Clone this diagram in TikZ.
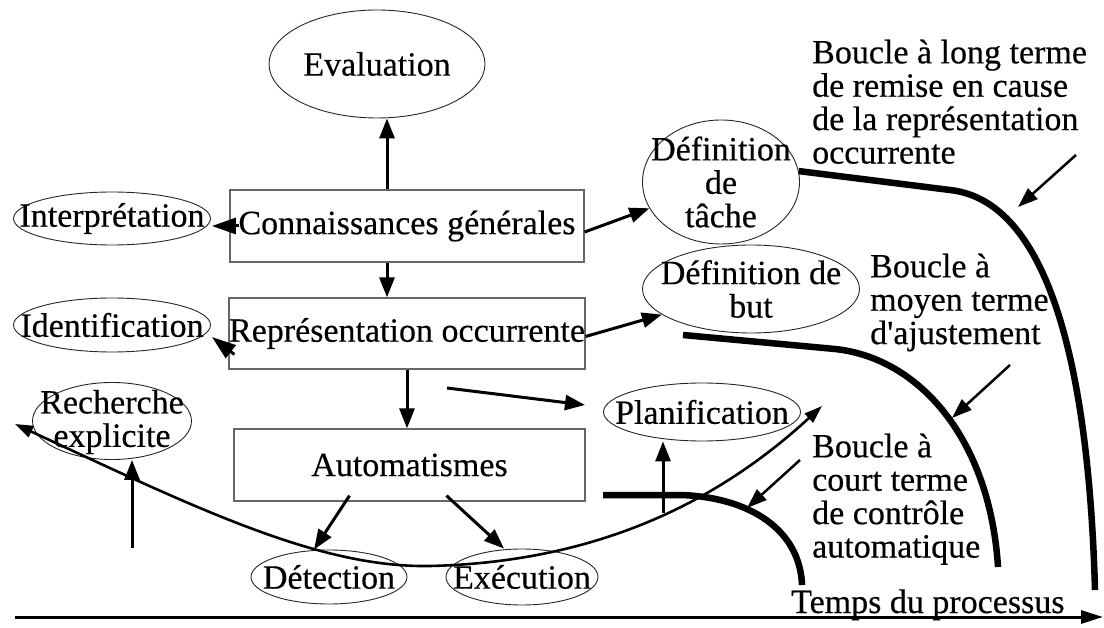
\documentclass[tikz,border=0pt]{standalone}
\usepackage{fontspec}
\setmainfont{Liberation Serif}[FakeBold=0.4]
\usetikzlibrary{arrows.meta,shapes.geometric}
\begin{document}
\begin{tikzpicture}[x=1pt,y=-1pt,
  every node/.style={font=\fontsize{34}{33.4}\selectfont},
  ell/.style={draw=black!85, line width=0.9pt, ellipse, inner sep=0pt},
  box/.style={draw=black!60, line width=1.3pt, rectangle, inner sep=0pt, minimum width=354pt, minimum height=72pt},
  lbl/.style={align=center, inner sep=0pt},
  arr/.style={line width=3pt, -{Triangle[width=15pt,length=20pt]}},
  shortarr/.style={line width=3pt, -{Triangle[width=16pt,length=24pt]}},
  thinarr/.style={line width=2.6pt, {Triangle[width=12pt,length=18pt]}-{Triangle[width=12pt,length=18pt]}},
  ptr/.style={line width=2.5pt, -{Triangle[width=14pt,length=20pt]}},
  axis/.style={line width=3pt, -{Triangle[width=13pt,length=22pt]}},
  loopline/.style={line width=6.5pt},
  txt/.style={align=left, anchor=north west, inner sep=0pt}
]
\useasboundingbox (0,0) rectangle (1104,628);

% ellipses
\node[ell, minimum width=216pt, minimum height=108pt] (eval) at (377,64) {};
\node[lbl] (evalt) at (eval) {Evaluation};
\node[ell, minimum width=197pt, minimum height=53pt] (interp) at (112,218.5) {};
\node[lbl] (interpt) at (interp) {Interprétation};
\node[ell, minimum width=197pt, minimum height=54pt] (ident) at (112,325) {};
\node[lbl] (identt) at (ident) {Identification};
\node[ell, minimum width=159pt, minimum height=77pt] (rech) at (112,421) {};
\node[lbl] (recht) at ([yshift=-1pt]rech.center) {Recherche\\explicite};
\node[ell, minimum width=157pt, minimum height=124pt] (deftache) at (721,182) {};
\node[lbl] (deftachet) at (deftache) {Définition\\de\\tâche};
\node[ell, minimum width=217pt, minimum height=88pt] (defbut) at (751,289) {};
\node[lbl] (defbutt) at (defbut) {Définition de\\but};
\node[ell, minimum width=197pt, minimum height=58pt] (plan) at (702,412) {};
\node[lbl] (plant) at (plan) {Planification};
\node[ell, minimum width=156pt, minimum height=54pt] (detect) at (329,577) {};
\node[lbl] (detectt) at (detect) {Détection};
\node[ell, minimum width=152pt, minimum height=56pt] (exec) at (522,577) {};
\node[lbl] (exect) at (exec) {Exécution};

% boxes
\node[box] (conn) at (407,226) {Connaissances générales};
\node[box, minimum height=71pt] (rep) at (407,333.5) {Représentation occurrente};
\node[box, minimum width=351pt] (auto) at (409.5,465) {Automatismes};

% arrows between nodes
\draw[arr] ([xshift=-20pt]conn.north) -- ([xshift=10pt]eval.south);
\draw[shortarr] ([xshift=10pt]conn.west) -- ([xshift=1pt]conn.west -| interp.east);
\draw[arr] ([xshift=-20pt]conn.south) -- ([xshift=-20pt]rep.north);
\draw[shortarr] ([xshift=6pt,yshift=-21pt]rep.west) -- ([xshift=1pt,yshift=-12pt]ident.east);
\draw[arr] ([yshift=-6pt]conn.east) -- (deftache);
\draw[arr] ([yshift=-3pt]rep.east) -- (defbut);
\draw[arr] (rep.south) -- (rep.south |- auto.north);
\draw[arr] ([xshift=-60pt,yshift=6pt]auto.south) -- ([xshift=-15pt]detect.north);
\draw[arr] ([xshift=37pt,yshift=6pt]auto.south) -- ([xshift=-18pt]exec.north);

\coordinate (pa) at (447,388);
\coordinate (pb) at (585,405);
\draw[arr] (pa) -- (pb);
\coordinate (planin) at (663,513);
\draw[arr] (planin) -- (planin |- plan.south);
\coordinate (rechin) at (132,548);
\draw[arr] (rechin) -- (rechin |- rech.south);

% thin double-headed curve
\coordinate (tc0) at (15,424);
\coordinate (tc1) at (822,406);
\draw[thinarr] (tc0) .. controls (200,510) and (320,568) .. (430,566)
  .. controls (600,562) and (720,500) .. (tc1);

% thick loops
\coordinate (l1e) at (1095,590);
\draw[loopline] (deftache.8) -- (950,190) .. controls (1040,200) and (1088,340) .. (l1e);
\coordinate (l2s) at (683,335);
\coordinate (l2e) at (998,567);
\draw[loopline] (l2s) -- (835,349) .. controls (920,358) and (990,440) .. (l2e);
\coordinate (l3s) at (603,495);
\coordinate (l3e) at (802,585);
\draw[loopline] (l3s) -- (680,495) .. controls (750,497) and (800,530) .. (l3e);

% pointer arrows
\coordinate (p1a) at (1076,155); \coordinate (p1b) at (1018,207);
\draw[ptr] (p1a) -- (p1b);
\coordinate (p2a) at (1010,365); \coordinate (p2b) at (952,418);
\draw[ptr] (p2a) -- (p2b);
\coordinate (p3a) at (800,460); \coordinate (p3b) at (747,508);
\draw[ptr] (p3a) -- (p3b);

% loop labels
\node[txt] (longt) at (812,39.5) {Boucle à long terme\\de remise en cause\\de la représentation\\occurrente};
\node[txt] (moyt) at (870,253.5) {Boucle à\\moyen terme\\d\textquotesingle ajustement};
\node[txt] (court) at (812,433.5) {Boucle à\\court terme\\de contrôle\\automatique};

% time axis
\coordinate (ax0) at (15,617);
\coordinate (ax1) at (1103,617);
\draw[axis] (ax0) -- (ax1);
\node[anchor=base west, inner sep=0pt] (tempst) at (791,613) {Temps du processus};
\end{tikzpicture}
\end{document}
